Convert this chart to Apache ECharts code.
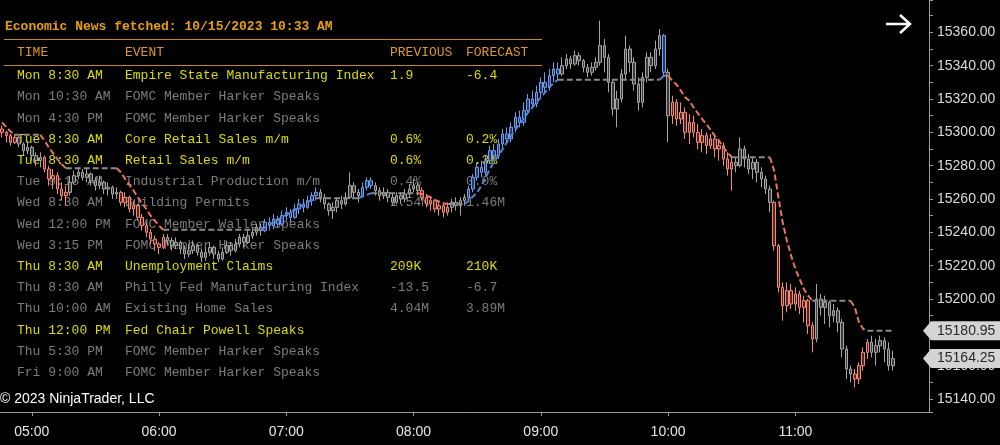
<!DOCTYPE html>
<html><head><meta charset="utf-8">
<script src="https://cdn.jsdelivr.net/npm/echarts@6/dist/echarts.min.js"></script>
<style>html,body{margin:0;padding:0;background:#000;}#c{width:1000px;height:445px;}</style>
</head><body><div id="c"></div>
<script>
// ---- DATA ----
const firstBar = '04:46';
const barMinutes = 2;
const lastCategory = '12:02';
const firstOpen = 15302;
const closes = [15300,15298,15294,15297,
15293,15289,15291,15286,15283,15285,
15278,15272,15274,15266,15262,15264,
15270,15274,15276,15273,15275,15271,15268,15270,15266,15267,15263,15264,
15258,15261,15254,15256,15249,15244,15240,15236,15233,15231,15237,
15235,15232,15234,15230,15227,15229,15232,15228,15225,15228,15231,15227,15224,15228,15232,15229,15233,15237,15234,15238,
15240,15243,15241,15246,15244,15248,15245,15250,15252,15249,15254,15257,15255,15259,15262,15264,15261,
15257,15253,15255,15259,15257,15261,15268,15264,15262,
15267,15271,15268,
15265,15262,15264,15261,15258,15262,15260,15263,15266,15268,15265,
15261,15257,15259,15254,15256,15252,15255,
15258,15256,15259,15261,
15266,15273,15279,15276,15283,15289,15286,15293,15299,15296,15303,15309,15306,15313,15320,15317,15324,15330,15327,15334,15338,15335,
15340,15344,15341,15346,15343,15339,15336,15339,15342,15352,15345,15330,15314,15320,15335,15350,15342,15329,15318,15333,15345,15340,15350,15358,15336,15310,15318,15308,
15312,15300,15306,15300,15294,15298,15292,15296,15290,15292,15284,15278,15282,
15280,15290,15284,15278,15282,15276,15272,15266,15258,
15232,15207,15196,15205,15197,15203,15195,15199,15184,15176,
15200,15195,15198,15190,15193,15186,15170,15158,15155,
15152,15160,15168,15174,
15168,15172,15175,15170,15160,15164.25];
const highs = [15304,15301,15299,15299,
15298,15294,15295,15292,15288,15288,
15286,15280,15278,15276,15270,15268,
15274,15277,15279,15278,15278,15276,15273,15274,15271,15270,15268,15267,
15265,15264,15262,15259,15257,15251,15246,15242,15238,15234,15239,
15239,15237,15237,15235,15232,15233,15235,15233,15230,15231,15234,15232,15229,15231,15235,15234,15236,15239,15239,15241,
15243,15245,15245,15248,15249,15251,15250,15253,15255,15254,15257,15260,15260,15262,15264,15267,15266,
15263,15258,15258,15261,15262,15264,15276,15270,15266,
15270,15273,15273,
15270,15267,15267,15266,15263,15264,15264,15266,15269,15272,15270,
15267,15263,15262,15260,15259,15257,15258,
15260,15261,15261,15263,
15268,15275,15282,15283,15286,15292,15293,15296,15302,15303,15306,15312,15313,15318,15323,15325,15328,15333,15336,15338,15342,15342,
15345,15347,15346,15349,15348,15344,15341,15342,15345,15367,15356,15347,15332,15325,15338,15358,15352,15345,15333,15336,15348,15348,15355,15362,15359,15338,15322,15320,
15318,15315,15311,15310,15305,15302,15300,15299,15298,15296,15294,15288,15286,
15285,15297,15292,15287,15285,15284,15279,15274,15268,
15259,15233,15210,15210,15209,15207,15205,15202,15200,15186,
15209,15203,15202,15199,15197,15195,15188,15172,15160,
15158,15162,15171,15176,
15178,15176,15178,15177,15174,15169];
const lows = [15297,15294,15292,15293,
15291,15286,15287,15283,15280,15279,
15276,15268,15266,15263,15259,15256,
15262,15269,15272,15271,15270,15268,15265,15266,15263,15262,15260,15260,
15256,15255,15252,15250,15247,15241,15237,15233,15229,15227,15230,
15232,15229,15230,15227,15224,15225,15227,15226,15222,15223,15226,15224,15222,15223,15227,15226,15228,15231,15231,15233,
15236,15238,15238,15240,15241,15242,15243,15244,15247,15246,15248,15251,15252,15254,15256,15259,15258,
15254,15250,15248,15252,15254,15256,15260,15261,15258,
15261,15265,15266,
15262,15259,15260,15258,15256,15257,15257,15258,15261,15264,15262,
15259,15255,15253,15252,15250,15249,15250,
15252,15253,15250,15256,
15258,15264,15271,15273,15274,15281,15283,15284,15290,15293,15294,15300,15303,15304,15311,15314,15315,15321,15323,15325,15330,15331,
15334,15338,15338,15340,15340,15336,15333,15334,15337,15340,15336,15324,15310,15303,15318,15332,15336,15325,15313,15315,15330,15336,15338,15346,15334,15294,15305,15304,
15305,15296,15293,15297,15290,15288,15287,15290,15285,15283,15280,15274,15265,
15276,15279,15279,15275,15272,15270,15267,15263,15252,
15229,15204,15187,15192,15194,15193,15191,15186,15179,15168,
15174,15190,15185,15183,15186,15180,15165,15152,15150,
15147,15149,15157,15164,
15165,15160,15168,15162,15157,15157];
// trend-stop indicator (dashed line), one value per bar
const stopLine = [15306,15303,15300.5,15298.5,
15298.5,15298.5,15298.5,15298.5,15298.5,15298.5,
15295,15291,15287.5,15284,15281,15278.5,
15278.5,15278.5,15278.5,15278.5,15278.5,15278.5,15278.5,15278.5,15278.5,15278.5,15278.5,15278.5,
15276,15272,15268.5,15265,15261,15257.5,15254,15250,15247,15244,15241.5,
15241.5,15241.5,15241.5,15241.5,15241.5,15241.5,15241.5,15241.5,15241.5,15241.5,15241.5,15241.5,15241.5,15241.5,15241.5,15241.5,15241.5,15241.5,15241.5,15241.5,15241.5,15241.5,15241.5,
15243,15244.5,15246,15247.5,15249,15250.5,15252,15253.5,15255,15256.5,15258,15259.5,15260.5,
15260.5,15260.5,15260.5,15260.5,15260.5,15260.5,15260.5,15260.5,15260.5,15260.5,
15261.5,15262.5,15263.5,
15263.5,15263.5,15263.5,15263.5,15263.5,15263.5,15263.5,15263.5,15263.5,15263.5,15263.5,
15263,15262,15261,15259.5,15258.5,15257.5,15257,
15257,15257,15257,15257,
15259,15261.5,15264,15268,15273,15278,15282.5,15286,15290,15294,15298,15301.5,15305,15308.5,15312,15315,15318,15321,15324,15327,15329.5,15331.5,
15331.5,15331.5,15331.5,15331.5,15331.5,15331.5,15331.5,15331.5,15331.5,15331.5,15331.5,15331.5,15331.5,15331.5,15331.5,15331.5,15331.5,15331.5,15331.5,15331.5,15331.5,15331.5,15331.5,15331.5,
15334,
15334,
15331,15328.5,15325,15321,15319,15315,15311.5,15308,15305,15301.5,15298,15295,15291,15288,15285,
15285,15285,15285,15285,15285,15285,15285,15285,15285,
15277,15261,15246,15235,15226,15218,15212,15206,15202,15199,
15199,15199,15199,15199,15199,15199,15199,15199,15199,
15195,15186,15182,15180.95,
15180.95,15180.95,15180.95,15180.95,15180.95,15180.95];
// trend state runs: u = up (blue), d = down (red), n = neutral (gray)
const trendRuns = [['d',4],['n',6],['d',6],['n',12],['d',11],['n',23],['u',13],['n',10],['u',3],['n',11],
['d',7],['n',4],['u',22],['n',24],['u',1],['n',1],['d',15],['n',9],['d',10],['n',9],['d',4],['n',6]];
// economic news table
const newsTitle = 'Economic News fetched: 10/15/2023 10:33 AM';
const newsHeader = ['TIME','EVENT','PREVIOUS','FORECAST'];
const newsTimes = ['Mon 8:30 AM','Mon 10:30 AM','Mon 4:30 PM','Tue 8:30 AM','Tue 8:30 AM','Tue 9:15 AM','Wed 8:30 AM','Wed 12:00 PM','Wed 3:15 PM','Thu 8:30 AM','Thu 8:30 AM','Thu 10:00 AM','Thu 12:00 PM','Thu 5:30 PM','Fri 9:00 AM'];
const newsEvents = ['Empire State Manufacturing Index','FOMC Member Harker Speaks','FOMC Member Harker Speaks','Core Retail Sales m/m','Retail Sales m/m','Industrial Production m/m','Building Permits','FOMC Member Waller Speaks','FOMC Member Harker Speaks','Unemployment Claims','Philly Fed Manufacturing Index','Existing Home Sales','Fed Chair Powell Speaks','FOMC Member Harker Speaks','FOMC Member Harker Speaks'];
const newsPrev = ['1.9','','','0.6%','0.6%','0.4%','1.54M','','','209K','-13.5','4.04M','','',''];
const newsFcst = ['-6.4','','','0.2%','0.3%','0.0%','1.46M','','','210K','-6.7','3.89M','','',''];
const newsHigh = [1,0,0,1,1,0,0,0,0,1,0,0,1,0,0];
const copyright = '\u00a9 2023 NinjaTrader, LLC';

// ---- BUILD ----
function pad(n){return (n<10?'0':'')+n;}
function toMin(s){const p=s.split(':');return +p[0]*60+ +p[1];}
const cats=[];
for(let m=toMin(firstBar); m<=toMin(lastCategory); m+=barMinutes) cats.push(pad(Math.floor(m/60))+':'+pad(m%60));

const state=[]; trendRuns.forEach(r=>{for(let k=0;k<r[1];k++) state.push(r[0]);});
const pal = {
  u:{border:'#6f9ff0', up:'#233a66', down:'#4f7ccc', line:'#4f86dc'},
  d:{border:'#f58a78', up:'#5a241e', down:'#c85a4c', line:'#e8735f'},
  n:{border:'#a6a6a6', up:'#3a3a3a', down:'#6a6a6a', line:'#8a8a8a'}
};
const candleData = closes.map((c,i)=>{
  const o = i===0 ? firstOpen : closes[i-1];
  const p = pal[state[i]];
  return {value:[o,c,Math.min(lows[i],o,c),Math.max(highs[i],o,c)],
    itemStyle:{color:p.up,color0:p.down,borderColor:p.border,borderColor0:p.border,borderWidth:1}};
});
const series=[{type:'candlestick',data:candleData,barWidth:3,z:2,animation:false}];
let start=0;
trendRuns.forEach(r=>{
  const a=start, b=start+r[1]-1; start+=r[1];
  const d=stopLine.map((v,i)=> (i>=Math.max(0,a-1) && i<=b) ? v : null);
  series.push({type:'line',data:d,symbol:'none',z:3,animation:false,connectNulls:false,
    lineStyle:{color:pal[r[0]].line,width:2,type:[6,3]}});
});

const chart = echarts.init(document.getElementById('c'), null, {renderer:'canvas'});
// hour labels only where bars exist
const hourLabel = (idx,val)=> /:00$/.test(val) && idx < closes.length;
chart.setOption({
  backgroundColor:'#000',
  animation:false,
  grid:{left:0,right:71,top:0,bottom:33},
  xAxis:{type:'category',data:cats,boundaryGap:true,
    axisLine:{show:true,lineStyle:{color:'#9a9a9a',width:1}},
    axisTick:{show:true,alignWithLabel:true,interval:hourLabel,length:4,lineStyle:{color:'#9a9a9a'}},
    axisLabel:{interval:hourLabel,color:'#e6e6e6',fontSize:14,fontFamily:'Liberation Sans',margin:13},
    splitLine:{show:false}},
  yAxis:{type:'value',position:'right',min:15132.2,max:15379.4,splitNumber:24,scale:true,
    axisLine:{show:true,lineStyle:{color:'#9a9a9a',width:1}},
    axisTick:{show:true,length:4,lineStyle:{color:'#9a9a9a'}},
    axisLabel:{color:'#dcdcdc',fontSize:14,fontFamily:'Liberation Sans',margin:8,
      formatter:v=>{const q=v/20;return Math.abs(q-Math.round(q))<1e-6 ? v.toFixed(2) : '';}},
    splitLine:{show:false}},
  series:series
});

// graphics: news table, copyright, arrow, price markers
const mono='"Liberation Mono", "DejaVu Sans Mono", monospace';
const els=[];
function txt(s,x,y,fill,font,z){els.push({type:'text',x:x,y:y,z:z||0,silent:true,style:{text:s,fill:fill,font:font,textAlign:'left',textVerticalAlign:'middle'}});}
txt(newsTitle,5,27,'#e8a10c','bold 13px '+mono);
els.push({type:'line',z:0,silent:true,shape:{x1:4,y1:39.5,x2:542,y2:39.5},style:{stroke:'#c88a12',lineWidth:1}});
els.push({type:'line',z:0,silent:true,shape:{x1:4,y1:65.5,x2:542,y2:65.5},style:{stroke:'#c88a12',lineWidth:1}});
const colX=[17,125,390,466];
newsHeader.forEach((h,k)=>txt(h,colX[k],53,'#dc9a22','13px '+mono));
newsTimes.forEach((t,r)=>{
  const y=75.7+r*21.2, col=newsHigh[r]?'#dcdc00':'#7c7c7c';
  txt(t,colX[0],y,col,'13px '+mono);
  txt(newsEvents[r],colX[1],y,col,'13px '+mono);
  if(newsPrev[r]) txt(newsPrev[r],colX[2],y,col,'13px '+mono);
  if(newsFcst[r]) txt(newsFcst[r],colX[3],y,col,'13px '+mono);
});
txt(copyright,0,399,'#ffffff','14px "Liberation Sans", Arial, sans-serif');
els.push({type:'polyline',z:10,silent:true,shape:{points:[[886,24],[910,24]]},style:{stroke:'#ffffff',lineWidth:2.5,fill:null}});
els.push({type:'polyline',z:10,silent:true,shape:{points:[[900,15],[910,24],[900,33]]},style:{stroke:'#ffffff',lineWidth:2.5,fill:null}});
function marker(v){
  const y=chart.convertToPixel({yAxisIndex:0},v);
  els.push({type:'polygon',z:50,silent:true,shape:{points:[[923,y],[931,y-9.5],[1000,y-9.5],[1000,y+9.5],[931,y+9.5]]},style:{fill:'#d4d4d4'}});
  els.push({type:'text',x:937,y:y,z:51,silent:true,style:{text:v.toFixed(2),fill:'#2a2a2a',font:'14px "Liberation Sans", Arial, sans-serif',textAlign:'left',textVerticalAlign:'middle'}});
}
marker(stopLine[stopLine.length-1]);
marker(closes[closes.length-1]);
chart.setOption({graphic:{elements:els}});
</script></body></html>
